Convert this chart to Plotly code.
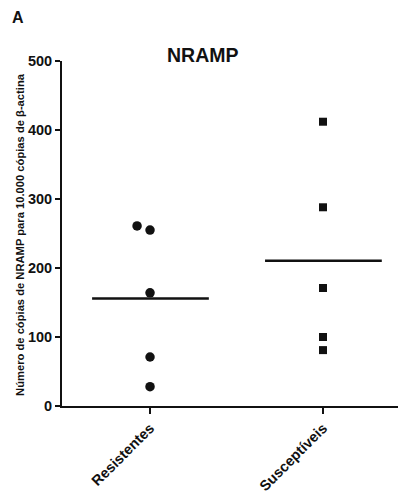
import plotly.graph_objects as go

categories = ["Resistentes", "Susceptíveis"]
resistentes = [261, 255, 164, 71, 28]
resistentes_dx = [-0.075, 0, 0, 0, 0]
susceptiveis = [412, 288, 171, 100, 81]
susceptiveis_dx = [0, 0, 0, 0, 0]
y_ticks = [0, 100, 200, 300, 400, 500]

def mean(v):
    return sum(v) / len(v)

fig = go.Figure()
fig.add_trace(go.Scatter(
    x=[0 + d for d in resistentes_dx], y=resistentes, mode="markers",
    marker=dict(symbol="circle", size=9.5, color="#111111"), showlegend=False, cliponaxis=False))
fig.add_trace(go.Scatter(
    x=[1 + d for d in susceptiveis_dx], y=susceptiveis, mode="markers",
    marker=dict(symbol="square", size=8, color="#111111"), showlegend=False, cliponaxis=False))
for i, vals in enumerate([resistentes, susceptiveis]):
    m = mean(vals)
    fig.add_trace(go.Scatter(x=[i - 0.335, i + 0.34], y=[m, m], mode="lines",
                             line=dict(color="#111111", width=2.5), showlegend=False))

bold_tick = dict(size=14.5, family="Liberation Sans, Arial", weight="bold")

fig.update_layout(
    width=398, height=494,
    margin=dict(l=54, r=0, t=53, b=96),
    paper_bgcolor="white", plot_bgcolor="white",
    font=dict(family="Liberation Sans, Arial", color="#111111"),
    xaxis=dict(range=[-0.509, 1.48], tickvals=[0, 1], ticktext=categories,
               tickangle=-45, ticks="outside", ticklen=6, tickwidth=1.5, tickcolor="#111111",
               showline=True, linewidth=2, linecolor="#111111", showgrid=False, zeroline=False,
               tickfont=bold_tick),
    yaxis=dict(range=[0, 500], tickvals=y_ticks, ticks="outside", ticklen=5, tickwidth=1.5,
               tickcolor="#111111", showline=True, linewidth=2, linecolor="#111111",
               showgrid=False, zeroline=False, tickfont=bold_tick),
    annotations=[
        dict(text="<b>NRAMP</b>", x=0.41, y=1.016, xref="paper", yref="paper",
             xanchor="center", yanchor="middle", showarrow=False, font=dict(size=19.5)),
        dict(text="<b>A</b>", x=-0.128, y=1.125, xref="paper", yref="paper",
             xanchor="center", yanchor="middle", showarrow=False, font=dict(size=16)),
        dict(text="<b>Número de cópias de NRAMP para 10.000 cópias de β-actina</b>",
             x=-0.122, y=0.496, xref="paper", yref="paper", textangle=-90,
             xanchor="center", yanchor="middle", showarrow=False, font=dict(size=11.2)),
    ],
)

fig.write_html("out.html")
